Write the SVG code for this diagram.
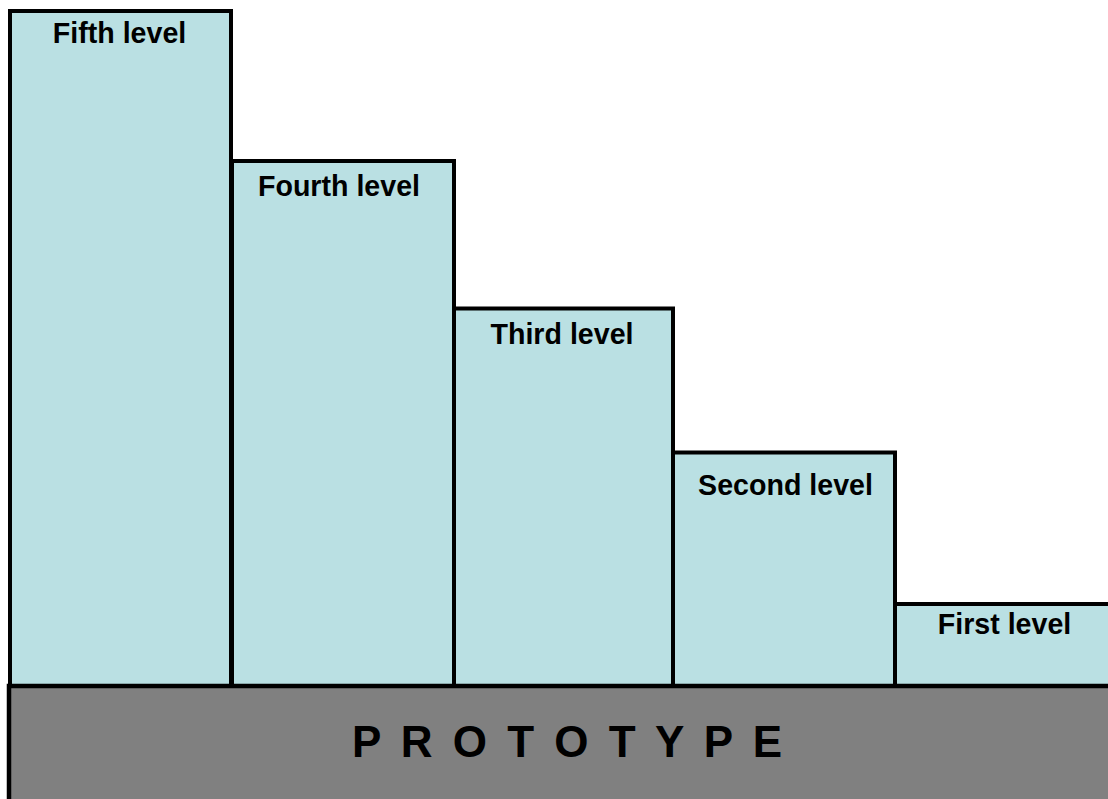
<svg xmlns="http://www.w3.org/2000/svg" width="1108" height="799" viewBox="0 0 1108 799">
  <style>
    .lvl { fill: #BAE0E3; stroke: #000; stroke-width: 4; }
    .base { fill: #808080; stroke: #000; stroke-width: 4.5; }
    .lbl { font-family: "Liberation Sans", Arial, sans-serif; font-weight: bold; font-size: 28.6px; fill: #000; text-anchor: middle; }
    .ttl { font-family: "Liberation Sans", Arial, sans-serif; font-weight: bold; font-size: 44px; fill: #000; letter-spacing: 4px; }
  </style>
  <rect width="1108" height="799" fill="#fff"/>
  <g id="level5">
    <rect class="lvl" x="10" y="11" width="221" height="675"/>
    <text class="lbl" x="119.5" y="43">Fifth level</text>
  </g>
  <g id="level4">
    <rect class="lvl" x="232" y="161" width="222" height="525"/>
    <text class="lbl" x="339" y="196">Fourth level</text>
  </g>
  <g id="level3">
    <rect class="lvl" x="454" y="308.5" width="219" height="377.5"/>
    <text class="lbl" x="562" y="344">Third level</text>
  </g>
  <g id="level2">
    <rect class="lvl" x="673" y="452.5" width="222" height="233.5"/>
    <text class="lbl" x="785.5" y="495">Second level</text>
  </g>
  <g id="level1">
    <rect class="lvl" x="895" y="604" width="220" height="82"/>
    <text class="lbl" x="1004.5" y="634">First level</text>
  </g>
  <g id="prototype">
    <rect class="base" x="9" y="686" width="1106" height="120"/>
    <text class="ttl" x="352" y="757">P R O T O T Y P E</text>
  </g>
  <g id="connectors"/>
</svg>
